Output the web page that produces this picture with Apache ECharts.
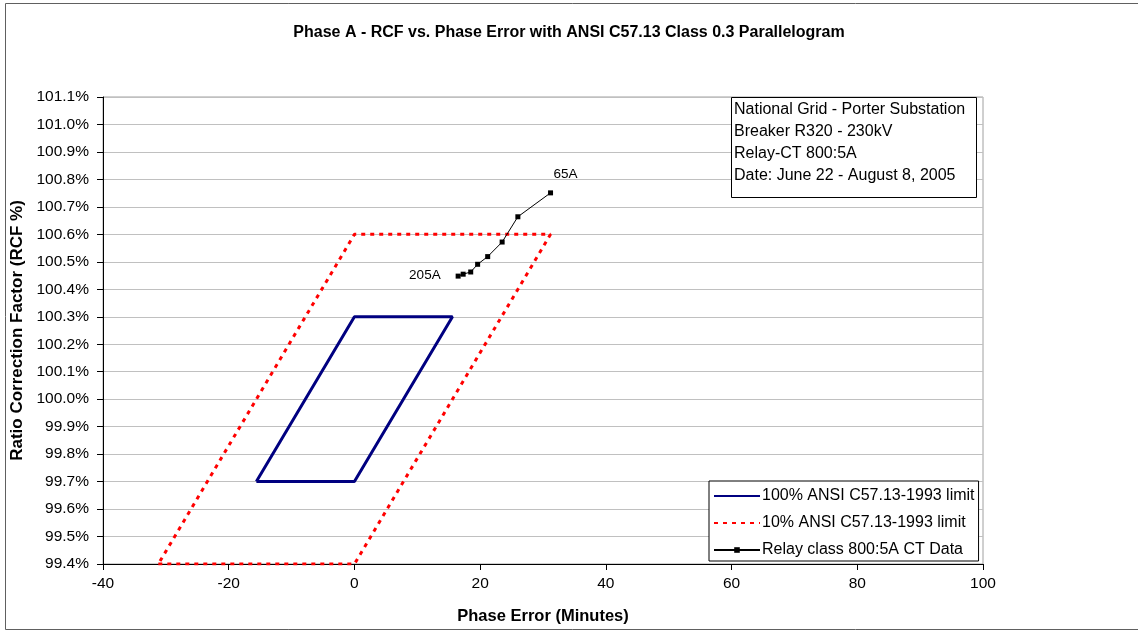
<!DOCTYPE html>
<html>
<head>
<meta charset="utf-8">
<script src="https://cdn.jsdelivr.net/npm/echarts@6/dist/echarts.min.js"></script>
<style>
  html, body { margin: 0; padding: 0; background: #fff; }
  #chart { width: 1138px; height: 632px; }
</style>
</head>
<body>
<div id="chart"></div>
<script>
// ANSI C57.13 Class 0.3 parallelogram corners: [phase error (min), RCF (%)]
var limit100 = [[-15.6, 99.7], [0, 99.7], [15.6, 100.3], [0, 100.3], [-15.6, 99.7]];
var limit10 = [[-31.2, 99.4], [0, 99.4], [31.2, 100.6], [0, 100.6], [-31.2, 99.4]];

// Relay-class CT measurements, from 205A down to 65A
var ctPhaseError = [16.5, 17.3, 18.5, 19.6, 21.2, 23.5, 26.0, 31.2];
var ctRcf = [100.448, 100.455, 100.463, 100.491, 100.519, 100.572, 100.664, 100.751];
var ctLabels = ['205A', '', '', '', '', '', '', '65A'];

var seriesNames = ['100% ANSI C57.13-1993 limit', '10% ANSI C57.13-1993 limit', 'Relay class 800:5A CT Data'];
var infoLines = ['National Grid - Porter Substation', 'Breaker R320 - 230kV', 'Relay-CT 800:5A', 'Date: June 22 - August 8, 2005'];

var FONT = 'Liberation Sans, Arial, sans-serif';

var ctData = ctPhaseError.map(function (x, i) {
  var item = { value: [x, ctRcf[i]] };
  if (i === 0) {
    item.label = { show: true, position: 'left', distance: 15, offset: [0, -1], formatter: ctLabels[i] };
  } else if (i === ctPhaseError.length - 1) {
    item.label = { show: true, position: 'top', distance: 9, offset: [15, 0], formatter: ctLabels[i] };
  }
  return item;
});

var chart = echarts.init(document.getElementById('chart'), null, { renderer: 'canvas' });

chart.setOption({
  animation: false,
  backgroundColor: '#ffffff',
  title: {
    text: 'Phase A - RCF vs. Phase Error with ANSI C57.13 Class 0.3 Parallelogram',
    left: 'center',
    top: 20,
    textStyle: { fontFamily: FONT, fontSize: 16, fontWeight: 'bold', color: '#000' }
  },
  grid: {
    left: 103, right: 155, top: 97, bottom: 68,
    show: true, borderColor: '#a0a0a0', borderWidth: 1, backgroundColor: 'transparent'
  },
  xAxis: {
    type: 'value',
    min: -40, max: 100, interval: 20,
    name: 'Phase Error (Minutes)',
    nameLocation: 'middle',
    nameGap: 44,
    nameTextStyle: { fontFamily: FONT, fontSize: 16.5, fontWeight: 'bold', color: '#000' },
    axisLine: { onZero: false, lineStyle: { color: '#000', width: 1 } },
    axisTick: { show: true, inside: false, length: 6, lineStyle: { color: '#000' } },
    axisLabel: { fontFamily: FONT, fontSize: 15.5, color: '#000', margin: 12 },
    splitLine: { show: false }
  },
  yAxis: {
    type: 'value',
    min: 99.4, max: 101.1, interval: 0.1,
    name: 'Ratio Correction Factor (RCF %)',
    nameLocation: 'middle',
    nameGap: 75,
    nameTextStyle: { fontFamily: FONT, fontSize: 17, fontWeight: 'bold', color: '#000' },
    axisLine: { onZero: false, lineStyle: { color: '#000', width: 1 } },
    axisTick: { show: true, inside: false, length: 6, lineStyle: { color: '#000' } },
    axisLabel: {
      fontFamily: FONT, fontSize: 15.5, color: '#000', margin: 14,
      formatter: function (v) { return v.toFixed(1) + '%'; }
    },
    splitLine: { show: true, lineStyle: { color: '#c0c0c0', width: 1 } }
  },
  legend: {
    orient: 'vertical',
    left: 709, top: 481,
    width: 270,
    padding: [6, 4, 2, 4],
    itemGap: 9,
    itemWidth: 46,
    itemHeight: 7,
    borderColor: '#000',
    borderWidth: 1,
    backgroundColor: '#fff',
    textStyle: { fontFamily: FONT, fontSize: 16, color: '#000', padding: [0, 0, 0, -3], lineHeight: 18 },
    data: [
      { name: seriesNames[0], itemStyle: { opacity: 0 } },
      { name: seriesNames[1], itemStyle: { opacity: 0 } },
      { name: seriesNames[2] }
    ]
  },
  series: [
    {
      name: seriesNames[0],
      type: 'line',
      data: limit100,
      showSymbol: false,
      symbol: 'none',
      lineStyle: { color: '#000080', width: 3 },
      itemStyle: { color: '#000080' },
      z: 3
    },
    {
      name: seriesNames[1],
      type: 'line',
      data: limit10,
      showSymbol: false,
      symbol: 'none',
      lineStyle: { color: '#ff0000', width: 3, type: [4, 5] },
      itemStyle: { color: '#ff0000' },
      z: 2
    },
    {
      name: seriesNames[2],
      type: 'line',
      data: ctData,
      symbol: 'rect',
      symbolSize: 5,
      lineStyle: { color: '#000', width: 1 },
      itemStyle: { color: '#000' },
      label: { show: false, fontFamily: FONT, fontSize: 13.5, color: '#000' },
      z: 4
    }
  ],
  graphic: [
    {
      type: 'rect',
      shape: { x: 5.5, y: 3.5, width: 1140, height: 626 },
      style: { fill: 'none', stroke: '#606060', lineWidth: 1 },
      silent: true,
      z: -10
    },
    {
      type: 'rect',
      shape: { x: 731.5, y: 97.5, width: 245, height: 100 },
      style: { fill: '#fff', stroke: '#000', lineWidth: 1 },
      z: 50
    },
    {
      type: 'text',
      x: 734, y: 99,
      style: {
        text: infoLines.join('\n'),
        fontFamily: FONT, fontSize: 16, lineHeight: 22, fill: '#000'
      },
      z: 51
    }
  ]
});
</script>
</body>
</html>
